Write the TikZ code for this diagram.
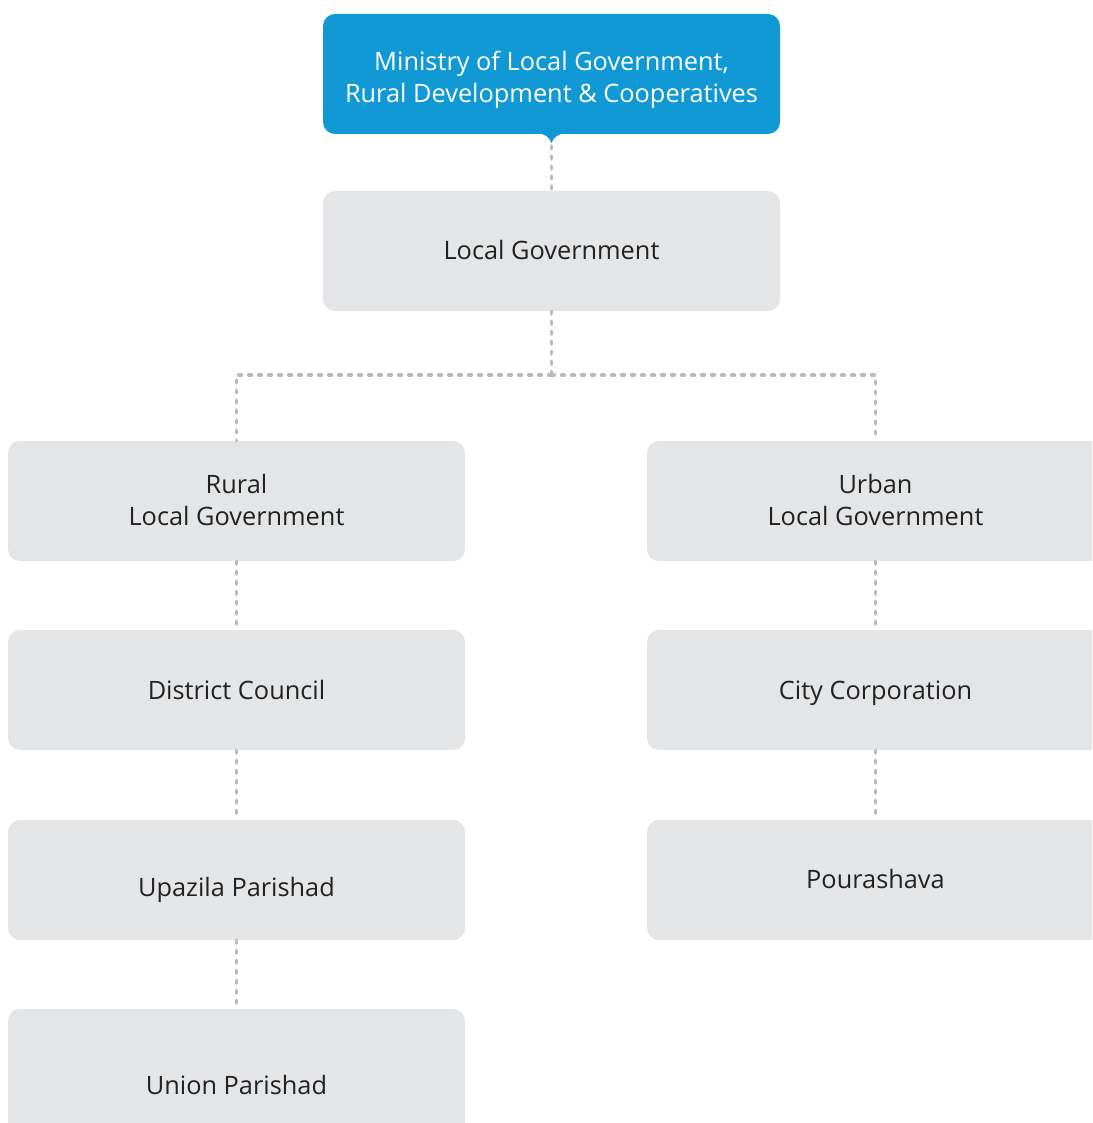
\documentclass[tikz,border=0pt]{standalone}
\usepackage{fontspec}
\setmainfont{Open Sans}
\definecolor{topblue}{HTML}{1199D6}
\definecolor{boxgray}{HTML}{E4E5E7}
\definecolor{linegray}{HTML}{BBBBBB}
\definecolor{txt}{HTML}{222222}
\tikzset{
  box/.style={fill=boxgray, rounded corners=9pt, minimum width=342.75pt, minimum height=90pt, inner sep=0pt},
  topbox/.style={box, fill=topblue},
  lbl/.style={anchor=base, inner sep=0pt, text=txt, font=\fontsize{19pt}{24pt}\selectfont},
  toplbl/.style={lbl, text=white},
  conn/.style={draw=linegray, line width=2.6pt, line cap=round, dash pattern=on 2.2pt off 5.3pt}
}
\begin{document}
\begin{tikzpicture}[x=0.75pt,y=-0.75pt]
\useasboundingbox (0,0) rectangle (1092,1123);
\clip (0,0) rectangle (1092,1123);
\node[topbox] (min) at (551.5,74) {};
\fill[topblue] (536,133) .. controls (546,134) and (549,137) .. (551.5,143) .. controls (554,137) and (557,134) .. (567,133) -- cycle;
\node[toplbl] (minA) at (551.5,71) {Ministry of Local Government,};
\node[toplbl] (minB) at (551.5,103) {Rural Development \& Cooperatives};
\coordinate (notch) at (551.5,146);
\node[box] (lg) at (551.5,251) {};
\node[lbl] (lgT) at (551.5,259) {Local Government};
\node[box] (rural) at (236.5,501) {};
\node[lbl] (ruralA) at (236.5,493) {Rural};
\node[lbl] (ruralB) at (236.5,525) {Local Government};
\node[box] (urban) at (875.5,501) {};
\node[lbl] (urbanA) at (875.5,493) {Urban};
\node[lbl] (urbanB) at (875.5,525) {Local Government};
\node[box] (dc) at (236.5,690) {};
\node[lbl] (dcT) at (236.5,699) {District Council};
\node[box] (cc) at (875.5,690) {};
\node[lbl] (ccT) at (875.5,699) {City Corporation};
\node[box] (up) at (236.5,880) {};
\node[lbl] (upT) at (236.5,896) {Upazila Parishad};
\node[box] (pou) at (875.5,880) {};
\node[lbl] (pouT) at (875.5,888) {Pourashava};
\node[box, minimum height=114pt] (union) at (236.5,1085) {};
\node[lbl] (unionT) at (236.5,1094) {Union Parishad};
\coordinate (split) at (551.5,375);
\draw[conn] (notch) -- (lg.north);
\draw[conn] (lg.south) -- (split);
\draw[conn] (split) -| (rural.north);
\draw[conn] (split) -| (urban.north);
\draw[conn] (rural.south) -- (dc.north);
\draw[conn] (dc.south) -- (up.north);
\draw[conn] (up.south) -- (union.north);
\draw[conn] (urban.south) -- (cc.north);
\draw[conn] (cc.south) -- (pou.north);
\end{tikzpicture}
\end{document}
